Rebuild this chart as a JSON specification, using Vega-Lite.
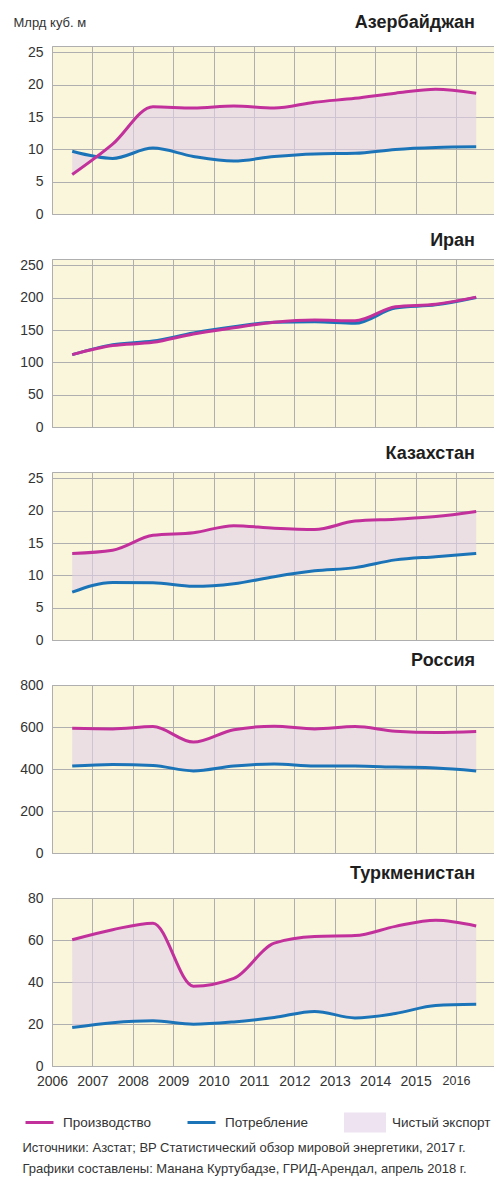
{
  "$schema": "https://vega.github.io/schema/vega-lite/v6.json",
  "padding": {"left": 12, "top": 13, "right": 0, "bottom": 0},
  "background": "white",
  "datasets": {
    "gas": [
      {"c": "Азербайджан", "year": 2006, "prod": 6.1, "cons": 9.7},
      {"c": "Азербайджан", "year": 2007, "prod": 10.8, "cons": 8.6},
      {"c": "Азербайджан", "year": 2008, "prod": 16.6, "cons": 10.2},
      {"c": "Азербайджан", "year": 2009, "prod": 16.4, "cons": 8.9},
      {"c": "Азербайджан", "year": 2010, "prod": 16.7, "cons": 8.2},
      {"c": "Азербайджан", "year": 2011, "prod": 16.4, "cons": 8.9},
      {"c": "Азербайджан", "year": 2012, "prod": 17.3, "cons": 9.3},
      {"c": "Азербайджан", "year": 2013, "prod": 17.9, "cons": 9.4},
      {"c": "Азербайджан", "year": 2014, "prod": 18.7, "cons": 10.0},
      {"c": "Азербайджан", "year": 2015, "prod": 19.3, "cons": 10.3},
      {"c": "Азербайджан", "year": 2016, "prod": 18.7, "cons": 10.4},
      {"c": "Иран", "year": 2006, "prod": 112, "cons": 112},
      {"c": "Иран", "year": 2007, "prod": 126, "cons": 127.5},
      {"c": "Иран", "year": 2008, "prod": 131, "cons": 133},
      {"c": "Иран", "year": 2009, "prod": 144, "cons": 145.5},
      {"c": "Иран", "year": 2010, "prod": 153.5, "cons": 155},
      {"c": "Иран", "year": 2011, "prod": 162, "cons": 162},
      {"c": "Иран", "year": 2012, "prod": 165.5, "cons": 163},
      {"c": "Иран", "year": 2013, "prod": 164.5, "cons": 160.5},
      {"c": "Иран", "year": 2014, "prod": 186, "cons": 184},
      {"c": "Иран", "year": 2015, "prod": 190, "cons": 189},
      {"c": "Иран", "year": 2016, "prod": 201, "cons": 200.5},
      {"c": "Казахстан", "year": 2006, "prod": 13.4, "cons": 7.4},
      {"c": "Казахстан", "year": 2007, "prod": 13.9, "cons": 8.9},
      {"c": "Казахстан", "year": 2008, "prod": 16.2, "cons": 8.85},
      {"c": "Казахстан", "year": 2009, "prod": 16.6, "cons": 8.3},
      {"c": "Казахстан", "year": 2010, "prod": 17.7, "cons": 8.7},
      {"c": "Казахстан", "year": 2011, "prod": 17.3, "cons": 9.8},
      {"c": "Казахстан", "year": 2012, "prod": 17.1, "cons": 10.7},
      {"c": "Казахстан", "year": 2013, "prod": 18.4, "cons": 11.2},
      {"c": "Казахстан", "year": 2014, "prod": 18.7, "cons": 12.4},
      {"c": "Казахстан", "year": 2015, "prod": 19.1, "cons": 12.9},
      {"c": "Казахстан", "year": 2016, "prod": 19.9, "cons": 13.4},
      {"c": "Россия", "year": 2006, "prod": 594, "cons": 414},
      {"c": "Россия", "year": 2007, "prod": 591, "cons": 422},
      {"c": "Россия", "year": 2008, "prod": 602, "cons": 417},
      {"c": "Россия", "year": 2009, "prod": 528, "cons": 391},
      {"c": "Россия", "year": 2010, "prod": 587, "cons": 414},
      {"c": "Россия", "year": 2011, "prod": 604, "cons": 424},
      {"c": "Россия", "year": 2012, "prod": 591, "cons": 414},
      {"c": "Россия", "year": 2013, "prod": 602, "cons": 414},
      {"c": "Россия", "year": 2014, "prod": 580, "cons": 409},
      {"c": "Россия", "year": 2015, "prod": 574, "cons": 405},
      {"c": "Россия", "year": 2016, "prod": 579, "cons": 391},
      {"c": "Туркменистан", "year": 2006, "prod": 60.1, "cons": 18.3},
      {"c": "Туркменистан", "year": 2007, "prod": 64.9, "cons": 20.6},
      {"c": "Туркменистан", "year": 2008, "prod": 68.0, "cons": 21.5},
      {"c": "Туркменистан", "year": 2009, "prod": 38.0, "cons": 19.9},
      {"c": "Туркменистан", "year": 2010, "prod": 41.7, "cons": 21.0},
      {"c": "Туркменистан", "year": 2011, "prod": 58.5, "cons": 23.1},
      {"c": "Туркменистан", "year": 2012, "prod": 61.7, "cons": 26.0},
      {"c": "Туркменистан", "year": 2013, "prod": 62.1, "cons": 22.9},
      {"c": "Туркменистан", "year": 2014, "prod": 66.5, "cons": 25.0},
      {"c": "Туркменистан", "year": 2015, "prod": 69.4, "cons": 28.8},
      {"c": "Туркменистан", "year": 2016, "prod": 66.7, "cons": 29.4}
    ]
  },
  "data": {"name": "gas"},
  "spacing": 45,
  "bounds": "flush",
  "vconcat": [
    {
      "title": {"text": "Азербайджан", "offset": -15.5},
      "width": 444, "height": 168,
      "transform": [{"filter": "datum.c === 'Азербайджан'"}],
      "encoding": {"x": {"field": "year", "type": "quantitative", "title": null, "scale": {"domain": [2005.5, 2016.49]}, "axis": {"values": [2005.5, 2006.5, 2007.5, 2008.5, 2009.5, 2010.5, 2011.5, 2012.5, 2013.5, 2014.5, 2015.5, 2016.5], "labels": false}}},
      "layer": [
        {"mark": {"type": "area", "interpolate": "monotone", "opacity": 0.6},
         "encoding": {"y": {"field": "prod", "type": "quantitative", "scale": {"domain": [0, 25]}, "title": "Млрд куб. м", "axis": {"values": [0, 5, 10, 15, 20, 25], "labelOverlap": false, "titleAngle": 0, "titleAlign": "left", "titleBaseline": "alphabetic", "titleX": -39, "titleY": -20, "titleFontSize": 13, "titleFontWeight": "normal", "titleColor": "#333333"}},
          "y2": {"field": "cons"},
          "fill": {"datum": "Чистый экспорт", "scale": {"domain": ["Чистый экспорт"], "range": ["#E1D1E8"]},
            "legend": {"orient": "none", "legendX": 302.5, "legendY": 1066, "direction": "horizontal", "title": null,
              "symbolType": "M-2,-0.95H2V0.95H-2Z", "symbolSize": 441, "symbolStrokeWidth": 0, "labelOffset": 16.5, "labelFontSize": 13.5, "labelColor": "#333333", "labelLimit": 300}}}},
        {"mark": {"type": "line", "interpolate": "monotone", "strokeWidth": 3},
         "encoding": {"y": {"field": "cons", "type": "quantitative", "title": "Млрд куб. м", "axis": {"values": [0, 5, 10, 15, 20, 25], "labelOverlap": false}},
          "color": {"datum": "Потребление", "scale": {"domain": ["Производство", "Потребление"], "range": ["#C2319B", "#1C74B8"]},
            "legend": {
              "orient": "none", "legendX": -29.5, "legendY": 1064.5, "direction": "horizontal", "gridAlign": "none",
              "title": ["Источники: Азстат; BP Статистический обзор мировой энергетики, 2017 г.", "Графики составлены: Манана Куртубадзе, ГРИД-Арендал, апрель 2018 г."],
              "titleOrient": "bottom", "titleAnchor": "start", "titleFontSize": 13, "titleFontWeight": "normal", "titleLineHeight": 21, "titleLimit": 1000, "titleColor": "#333333", "titlePadding": 12,
              "symbolType": "M-0.857,0H1.81", "symbolSize": 441, "symbolStrokeWidth": 3, "labelOffset": 16.5, "columnPadding": 30, "labelFontSize": 13.5, "labelColor": "#333333", "labelLimit": 300
            }}}},
        {"mark": {"type": "line", "interpolate": "monotone", "strokeWidth": 3},
         "encoding": {"y": {"field": "prod", "type": "quantitative", "title": "Млрд куб. м", "axis": {"values": [0, 5, 10, 15, 20, 25], "labelOverlap": false}}, "color": {"datum": "Производство"}}}
      ]
    },
    {
      "title": {"text": "Иран"},
      "width": 444, "height": 168,
      "transform": [{"filter": "datum.c === 'Иран'"}],
      "encoding": {"x": {"field": "year", "type": "quantitative", "title": null, "scale": {"domain": [2005.5, 2016.49]}, "axis": {"values": [2005.5, 2006.5, 2007.5, 2008.5, 2009.5, 2010.5, 2011.5, 2012.5, 2013.5, 2014.5, 2015.5, 2016.5], "labels": false}}},
      "layer": [
        {"mark": {"type": "area", "interpolate": "monotone", "opacity": 0.6},
         "encoding": {"y": {"field": "prod", "type": "quantitative", "scale": {"domain": [0, 250]}, "title": null, "axis": {"values": [0, 50, 100, 150, 200, 250], "labelOverlap": false}},
          "y2": {"field": "cons"},
          "fill": {"datum": "Чистый экспорт"}}},
        {"mark": {"type": "line", "interpolate": "monotone", "strokeWidth": 3},
         "encoding": {"y": {"field": "cons", "type": "quantitative", "title": null, "axis": {"values": [0, 50, 100, 150, 200, 250], "labelOverlap": false}}, "color": {"datum": "Потребление"}}},
        {"mark": {"type": "line", "interpolate": "monotone", "strokeWidth": 3},
         "encoding": {"y": {"field": "prod", "type": "quantitative", "title": null, "axis": {"values": [0, 50, 100, 150, 200, 250], "labelOverlap": false}}, "color": {"datum": "Производство"}}}
      ]
    },
    {
      "title": {"text": "Казахстан"},
      "width": 444, "height": 168,
      "transform": [{"filter": "datum.c === 'Казахстан'"}],
      "encoding": {"x": {"field": "year", "type": "quantitative", "title": null, "scale": {"domain": [2005.5, 2016.49]}, "axis": {"values": [2005.5, 2006.5, 2007.5, 2008.5, 2009.5, 2010.5, 2011.5, 2012.5, 2013.5, 2014.5, 2015.5, 2016.5], "labels": false}}},
      "layer": [
        {"mark": {"type": "area", "interpolate": "monotone", "opacity": 0.6},
         "encoding": {"y": {"field": "prod", "type": "quantitative", "scale": {"domain": [0, 25]}, "title": null, "axis": {"values": [0, 5, 10, 15, 20, 25], "labelOverlap": false}},
          "y2": {"field": "cons"},
          "fill": {"datum": "Чистый экспорт"}}},
        {"mark": {"type": "line", "interpolate": "monotone", "strokeWidth": 3},
         "encoding": {"y": {"field": "cons", "type": "quantitative", "title": null, "axis": {"values": [0, 5, 10, 15, 20, 25], "labelOverlap": false}}, "color": {"datum": "Потребление"}}},
        {"mark": {"type": "line", "interpolate": "monotone", "strokeWidth": 3},
         "encoding": {"y": {"field": "prod", "type": "quantitative", "title": null, "axis": {"values": [0, 5, 10, 15, 20, 25], "labelOverlap": false}}, "color": {"datum": "Производство"}}}
      ]
    },
    {
      "title": {"text": "Россия"},
      "width": 444, "height": 168,
      "transform": [{"filter": "datum.c === 'Россия'"}],
      "encoding": {"x": {"field": "year", "type": "quantitative", "title": null, "scale": {"domain": [2005.5, 2016.49]}, "axis": {"values": [2005.5, 2006.5, 2007.5, 2008.5, 2009.5, 2010.5, 2011.5, 2012.5, 2013.5, 2014.5, 2015.5, 2016.5], "labels": false}}},
      "layer": [
        {"mark": {"type": "area", "interpolate": "monotone", "opacity": 0.6},
         "encoding": {"y": {"field": "prod", "type": "quantitative", "scale": {"domain": [0, 800]}, "title": null, "axis": {"values": [0, 200, 400, 600, 800], "labelOverlap": false}},
          "y2": {"field": "cons"},
          "fill": {"datum": "Чистый экспорт"}}},
        {"mark": {"type": "line", "interpolate": "monotone", "strokeWidth": 3},
         "encoding": {"y": {"field": "cons", "type": "quantitative", "title": null, "axis": {"values": [0, 200, 400, 600, 800], "labelOverlap": false}}, "color": {"datum": "Потребление"}}},
        {"mark": {"type": "line", "interpolate": "monotone", "strokeWidth": 3},
         "encoding": {"y": {"field": "prod", "type": "quantitative", "title": null, "axis": {"values": [0, 200, 400, 600, 800], "labelOverlap": false}}, "color": {"datum": "Производство"}}}
      ]
    },
    {
      "title": {"text": "Туркменистан"},
      "width": 444, "height": 168,
      "transform": [{"filter": "datum.c === 'Туркменистан'"}],
      "encoding": {"x": {"field": "year", "type": "quantitative", "title": null, "scale": {"domain": [2005.5, 2016.49]}, "axis": {"values": [2005.5, 2006.5, 2007.5, 2008.5, 2009.5, 2010.5, 2011.5, 2012.5, 2013.5, 2014.5, 2015.5, 2016.5], "labelExpr": "toString(datum.value + 0.5)", "labelFlush": false, "labelOverlap": false, "labelFontSize": {"expr": "datum.value > 2015 ? 12.5 : 14"}, "labelDx": {"expr": "datum.value > 2015 ? 5 : 2"}, "labelPadding": 8}}},
      "layer": [
        {"mark": {"type": "area", "interpolate": "monotone", "opacity": 0.6},
         "encoding": {"y": {"field": "prod", "type": "quantitative", "scale": {"domain": [0, 80]}, "title": null, "axis": {"values": [0, 20, 40, 60, 80], "labelOverlap": false}},
          "y2": {"field": "cons"},
          "fill": {"datum": "Чистый экспорт"}}},
        {"mark": {"type": "line", "interpolate": "monotone", "strokeWidth": 3},
         "encoding": {"y": {"field": "cons", "type": "quantitative", "title": null, "axis": {"values": [0, 20, 40, 60, 80], "labelOverlap": false}}, "color": {"datum": "Потребление"}}},
        {"mark": {"type": "line", "interpolate": "monotone", "strokeWidth": 3},
         "encoding": {"y": {"field": "prod", "type": "quantitative", "title": null, "axis": {"values": [0, 20, 40, 60, 80], "labelOverlap": false}}, "color": {"datum": "Производство"}}}
      ]
    }
  ],
  "config": {
    "font": "Liberation Sans",
    "view": {"fill": "#FAF6DC", "stroke": "#AFAFAF", "strokeWidth": 1},
    "title": {"anchor": "end", "font": "Liberation Sans", "fontSize": 18, "fontWeight": "bold", "color": "#1E1E1E", "offset": 8, "dx": -21, "baseline": "alphabetic"},
    "axis": {"grid": true, "gridColor": "#AFAFAF", "gridWidth": 1, "gridOpacity": 1, "ticks": false, "domain": false, "labelFont": "Liberation Sans", "labelColor": "#333333", "labelFontSize": 14, "labelOverlap": false, "titleFont": "Liberation Sans"},
    "axisY": {"labelPadding": 9},
    "legend": {"labelFont": "Liberation Sans", "titleFont": "Liberation Sans"}
  }
}
